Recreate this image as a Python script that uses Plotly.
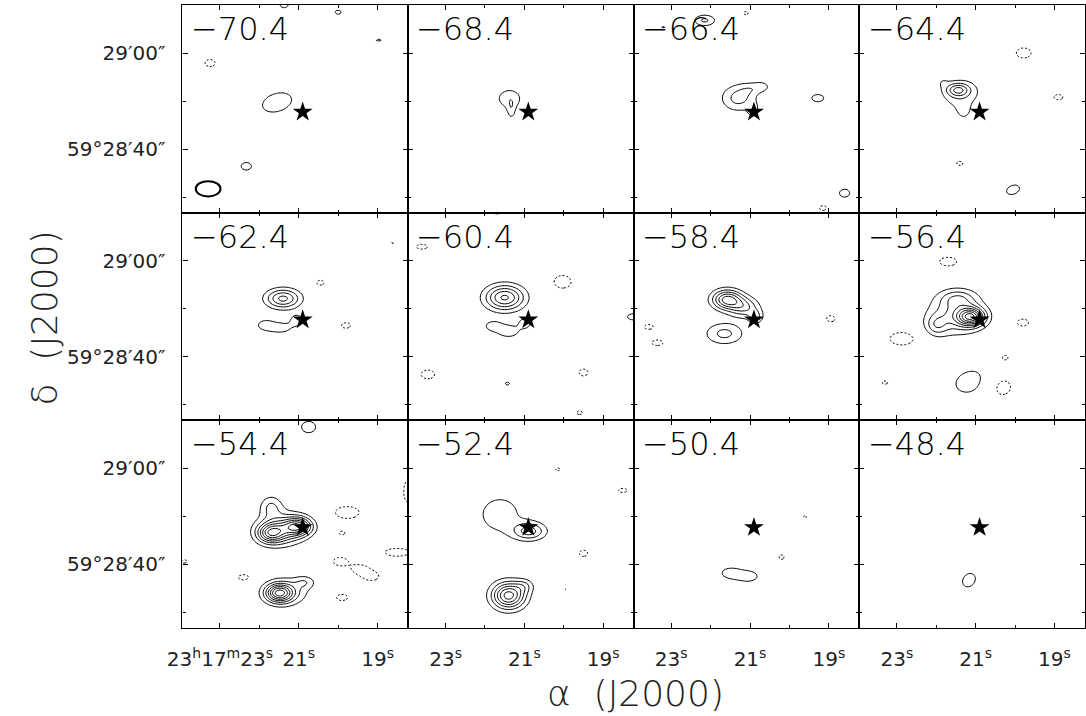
import numpy as np
import plotly.graph_objects as go

W, H = 1086, 716

# ---------------- data ----------------
velocities = [-70.4, -68.4, -66.4, -64.4, -62.4, -60.4, -58.4, -56.4, -54.4, -52.4, -50.4, -48.4]

# x ticks (RA seconds of 23h17m) and y ticks (arcsec above 59d28'00")
ra_major = [23, 21, 19]
ra_minor = [22, 20]
ra_text_first = ["23<sup>h</sup>17<sup>m</sup>23<sup>s</sup>", "21<sup>s</sup>", "19<sup>s</sup>"]
ra_text_other = ["23<sup>s</sup>", "21<sup>s</sup>", "19<sup>s</sup>"]
dec_major = [40, 60]
dec_minor = [30, 50]
dec_text = ["59°28′40″", "29′00″"]

star_ra, star_dec = 20.9, 47.7
beam_ra, beam_dec, beam_maj, beam_min = 23.3, 31.7, 4.8, 3.2  # arcsec

# emission components per channel: (RA s, Dec ", amplitude [contour units], sigma_x ", sigma_y ", pa deg)
ch_70_4 = [(21.37, 70.6, 1.6, 1.0, 1.2, 0), (20.0, 68.5, 1.2, 0.95, 0.7, 0), (18.97, 62.7, 1.1, 1.2, 0.5, 0),
           (21.55, 49.7, 1.6, 3.0, 1.9, -20), (22.33, 36.4, 1.4, 1.2, 0.95, 0),
           (23.25, 57.9, -1.4, 1.2, 0.9, 0)]
ch_68_4 = [(21.38, 50.5, 1.7, 1.9, 1.6, 0), (21.33, 48.0, 1.3, 0.6, 1.4, 0), (22.8, 35.4, 1.03, 0.5, 0.4, 0)]
ch_66_4 = [(21.3, 50.6, 2.4, 2.3, 1.9, 0), (20.7, 53.0, 1.3, 1.2, 0.8, 0), (20.92, 48.0, 1.3, 0.8, 1.2, 0),
           (21.0, 52.5, 1.0, 1.5, 1.0, 0),
           (19.28, 50.6, 1.4, 1.4, 0.9, 0), (18.6, 30.8, 1.4, 1.2, 1.0, 0),
           (22.15, 66.8, 2.2, 1.5, 0.85, 0), (23.2, 65.4, 1.1, 0.8, 0.4, 0),
           (21.1, 68.3, -1.2, 0.7, 0.6, 0), (19.15, 27.7, -1.3, 0.9, 0.7, 0)]
ch_64_4 = [(21.45, 52.3, 3.3, 1.5, 0.95, 0), (21.35, 51.2, 1.5, 3.0, 2.4, -20), (21.3, 47.9, 1.1, 0.9, 1.2, 0),
           (21.85, 54.0, 0.7, 1.0, 1.0, 0),
           (20.05, 31.5, 1.4, 1.6, 1.1, -25),
           (19.78, 60.0, -1.4, 1.75, 1.27, 0), (18.9, 50.8, -1.3, 1.2, 0.75, 0), (21.4, 37.0, -1.2, 1.0, 0.7, 0)]
ch_62_4 = [(21.4, 52.1, 4.3, 2.3, 1.4, 0), (21.85, 46.6, 1.4, 1.5, 1.0, 0), (21.45, 46.0, 1.5, 1.7, 0.9, 0),
           (21.05, 47.6, 1.5, 1.1, 1.0, 0), (19.37, 50.4, 1.05, 0.6, 0.3, 0),
           (20.45, 55.4, -1.3, 1.0, 0.7, 0), (19.8, 46.5, -1.3, 1.2, 0.8, 0), (18.63, 63.7, -1.1, 0.6, 0.4, 0)]
ch_60_4 = [(21.5, 52.3, 5.2, 2.6, 1.8, 0), (21.4, 45.3, 1.6, 1.8, 1.1, 0), (20.98, 47.0, 1.5, 1.0, 0.9, 0),
           (21.8, 46.4, 1.4, 1.4, 0.9, 0), (18.15, 48.3, 1.5, 2.0, 0.8, 0), (21.43, 34.4, 1.2, 0.7, 0.5, 0),
           (21.7, 70.4, 1.4, 1.0, 0.8, 0),
           (20.03, 55.6, -1.4, 2.0, 1.6, 0), (23.45, 36.3, -1.4, 1.6, 1.1, 0), (19.5, 36.7, -1.3, 1.2, 1.0, 0),
           (23.6, 62.9, -1.3, 1.5, 0.7, 0), (19.6, 28.3, -1.2, 1.0, 0.6, 0)]
ch_58_4 = [(21.58, 51.9, 5.4, 2.0, 1.4, 0), (21.15, 50.3, 3.0, 2.0, 1.4, 0), (20.85, 48.3, 2.0, 1.0, 1.0, 0),
           (21.65, 44.8, 2.3, 2.6, 1.6, 0),
           (23.57, 46.2, -1.3, 1.2, 0.7, 0), (23.35, 42.9, -1.3, 1.5, 0.8, 0), (18.95, 47.9, -1.3, 1.1, 0.9, 0)]
ch_56_4 = [(21.12, 48.3, 6.5, 1.8, 1.3, 0), (21.5, 48.8, 3.0, 3.6, 2.8, 0), (22.0, 46.5, 2.0, 1.5, 1.5, 0),
           (21.45, 52.2, 2.0, 2.4, 1.3, 0), (21.12, 34.8, 1.5, 3.3, 2.4, -20),
           (21.7, 59.8, -1.4, 2.0, 1.1, 0), (22.87, 43.75, -1.4, 2.8, 1.6, 0), (19.8, 47.1, -1.3, 1.5, 1.0, 0),
           (20.25, 39.8, -1.2, 0.9, 0.8, 0), (20.35, 33.75, -1.4, 2.4, 2.3, 0), (23.3, 34.6, -1.2, 0.9, 0.6, 0)]
ch_54_4 = [(21.72, 46.5, 5.0, 1.8, 1.4, 0), (21.0, 47.9, 5.3, 1.8, 1.3, 0), (21.35, 47.3, 2.5, 2.5, 2.0, 0),
           (21.5, 47.5, 1.5, 3.5, 2.5, 0), (21.7, 52.0, 2.0, 1.5, 1.6, 0),
           (21.5, 34.0, 6.0, 1.8, 1.3, 0), (21.3, 34.3, 2.0, 3.0, 2.0, 0), (20.85, 36.3, 1.5, 1.4, 0.9, 0),
           (20.75, 68.6, 1.5, 1.5, 1.3, 0),
           (19.77, 50.8, -1.4, 2.8, 1.5, 0), (19.9, 46.5, -1.2, 0.9, 0.6, 0), (19.95, 40.6, -1.4, 1.6, 1.0, 0),
           (19.45, 39.0, -1.4, 1.6, 1.0, 0), (19.15, 37.5, -1.4, 1.6, 1.0, 0), (18.5, 42.5, -1.5, 2.6, 0.9, 0),
           (18.25, 55.2, -1.4, 0.8, 2.6, 0), (22.4, 37.3, -1.3, 1.4, 0.8, 0), (19.9, 33.1, -1.3, 1.5, 0.9, 0),
           (23.9, 40.6, -1.2, 0.9, 0.6, 0)]
ch_52_4 = [(21.62, 50.4, 1.5, 3.6, 3.4, 0), (20.87, 46.9, 3.3, 2.2, 1.3, 0), (21.4, 33.5, 6.5, 2.2, 1.9, 0),
           (21.0, 35.5, 1.5, 1.3, 1.0, 0), (19.37, 50.8, 1.05, 0.4, 0.4, 0), (19.95, 34.8, 1.05, 0.4, 0.4, 0),
           (19.5, 42.3, -1.3, 1.1, 0.9, 0), (20.15, 59.8, -1.2, 0.8, 0.5, 0), (18.5, 55.4, -1.3, 1.2, 0.6, 0)]
ch_50_4 = [(21.5, 38.2, 1.5, 1.7, 1.0, 0), (21.0, 37.5, 1.5, 1.4, 0.9, 0), (21.25, 37.6, 0.6, 1.5, 1.0, 0),
           (20.2, 41.5, -1.2, 0.8, 0.8, 0), (19.6, 50.0, -1.1, 0.8, 0.5, 0)]
ch_48_4 = [(21.17, 36.7, 1.4, 1.4, 1.8, 30)]

channels = [ch_70_4, ch_68_4, ch_66_4, ch_64_4, ch_62_4, ch_60_4,
            ch_58_4, ch_56_4, ch_54_4, ch_52_4, ch_50_4, ch_48_4]

# ---------------- geometry ----------------
PX_X0, PX_Y0, PANEL_W, PANEL_H = 170, 5, 229, 207.67
PX_PER_S, PX_PER_AS = 40.0, 4.8
RA_LEFT = 23.95
RA_RIGHT = RA_LEFT - PANEL_W / PX_PER_S
DEC_TOP = 70.0
DEC_BOT = DEC_TOP - PANEL_H / PX_PER_AS
S2AS = 15 * np.cos(np.radians(59.475))

ra_grid = np.linspace(RA_RIGHT - 0.1, RA_LEFT + 0.1, 150)
dec_grid = np.linspace(DEC_BOT - 0.5, DEC_TOP + 0.5, 130)
RR, DD = np.meshgrid(ra_grid, dec_grid)


def field(comps):
    z = np.zeros_like(RR)
    for ra, dec, a, sx, sy, pa in comps:
        dx = (RR - ra) * S2AS
        dy = DD - dec
        t = np.radians(pa)
        u = dx * np.cos(t) + dy * np.sin(t)
        v = -dx * np.sin(t) + dy * np.cos(t)
        z += a * np.exp(-0.5 * (u ** 2 / sx ** 2 + v ** 2 / sy ** 2))
    return np.round(z, 3)


fig = go.Figure()
annotations = []
layout_axes = {}
font_fam = "DejaVu Sans"

for i, (vel, comps) in enumerate(zip(velocities, channels)):
    r, c = divmod(i, 4)
    n = i + 1
    xs = "" if n == 1 else str(n)
    x0 = PX_X0 + c * PANEL_W
    top = PX_Y0 + r * PANEL_H
    xdom = [x0 / W, (x0 + PANEL_W) / W]
    ydom = [1 - (top + PANEL_H) / H, 1 - top / H]
    z = field(comps)
    fig.add_trace(go.Contour(x=ra_grid, y=dec_grid, z=z, xaxis="x" + xs, yaxis="y" + xs,
                             contours=dict(start=1, end=12, size=1, coloring="none"),
                             line=dict(color="black", width=1, smoothing=1),
                             showscale=False, hoverinfo="skip"))
    fig.add_trace(go.Contour(x=ra_grid, y=dec_grid, z=-z, xaxis="x" + xs, yaxis="y" + xs,
                             contours=dict(start=1, end=3, size=1, coloring="none"),
                             line=dict(color="black", width=1, smoothing=1, dash="2px,2px"),
                             showscale=False, hoverinfo="skip"))
    fig.add_trace(go.Scatter(x=[star_ra], y=[star_dec], mode="markers", xaxis="x" + xs, yaxis="y" + xs,
                             marker=dict(symbol="star", size=15, color="black"), hoverinfo="skip"))
    bottom = r == 2
    left = c == 0
    layout_axes["xaxis" + xs] = dict(
        domain=xdom, range=[RA_LEFT, RA_RIGHT], anchor="y" + xs, showgrid=False, zeroline=False,
        showline=True, linecolor="black", linewidth=1.2, mirror="allticks",
        ticks="inside", ticklen=5, tickwidth=1, tickcolor="black",
        tickvals=ra_major, ticktext=(ra_text_first if c == 0 else ra_text_other),
        showticklabels=bottom, ticklabelstandoff=13,
        tickfont=dict(family=font_fam, size=20, color="#222"),
        minor=dict(tickvals=ra_minor, ticks="inside", ticklen=3, tickwidth=1, tickcolor="black"))
    layout_axes["yaxis" + xs] = dict(
        domain=ydom, range=[DEC_BOT, DEC_TOP], anchor="x" + xs, showgrid=False, zeroline=False,
        showline=True, linecolor="black", linewidth=1.2, mirror="allticks",
        ticks="inside", ticklen=5, tickwidth=1, tickcolor="black",
        tickvals=dec_major, ticktext=dec_text, showticklabels=left, ticklabelstandoff=12,
        tickfont=dict(family=font_fam, size=20, color="#222"),
        minor=dict(tickvals=dec_minor, ticks="inside", ticklen=3, tickwidth=1, tickcolor="black"))
    annotations.append(dict(text=f"\u2212{abs(vel):.1f}", xref=f"x{xs} domain", yref=f"y{xs} domain",
                            x=0.028, y=0.885, xanchor="left", yanchor="middle", showarrow=False,
                            font=dict(family=font_fam, size=32, color="black", weight=300)))

annotations.append(dict(text="α  (J2000)", xref="paper", yref="paper", x=630 / W, y=1 - 693 / H,
                        xanchor="center", yanchor="middle",
                        showarrow=False, font=dict(family=font_fam, size=36, color="#222", weight=300)))
annotations.append(dict(text="δ  (J2000)", xref="paper", yref="paper", x=30 / W, y=1 - 318 / H,
                        xanchor="center", yanchor="middle",
                        textangle=-90, showarrow=False,
                        font=dict(family=font_fam, size=36, color="#222", weight=300)))

shapes = [dict(type="circle", xref="x", yref="y",
               x0=beam_ra + beam_maj / S2AS / 2, x1=beam_ra - beam_maj / S2AS / 2,
               y0=beam_dec - beam_min / 2, y1=beam_dec + beam_min / 2,
               line=dict(color="black", width=2))]

fig.update_layout(width=W, height=H, margin=dict(l=0, r=0, t=0, b=0),
                  paper_bgcolor="white", plot_bgcolor="white", showlegend=False,
                  annotations=annotations, shapes=shapes, **layout_axes)

fig.write_html("out.html")
